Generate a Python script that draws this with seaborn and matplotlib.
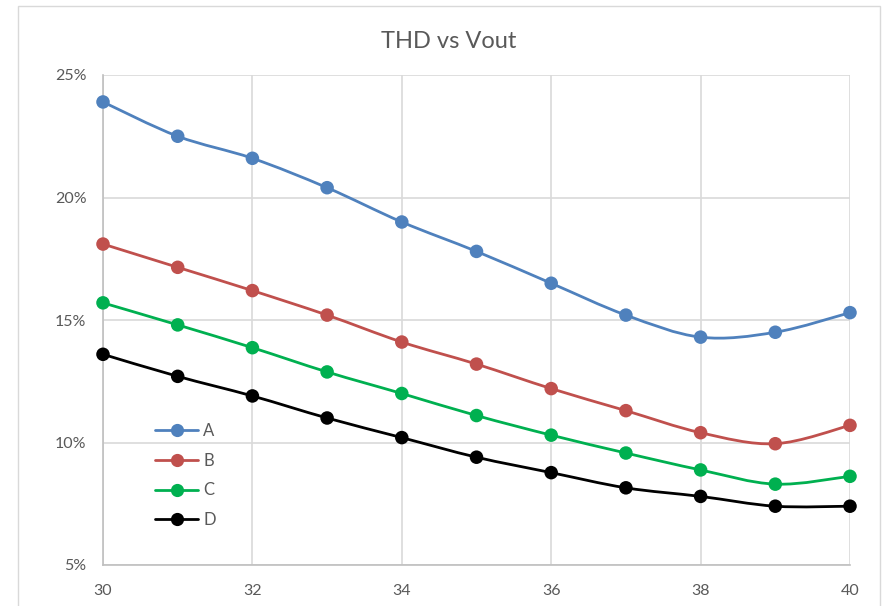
import numpy as np
import pandas as pd
import matplotlib
matplotlib.use("Agg")
import matplotlib.pyplot as plt
import seaborn as sns
from matplotlib.path import Path
from matplotlib.patches import PathPatch, Rectangle
from matplotlib.lines import Line2D
from matplotlib.ticker import FuncFormatter

vout = [30, 31, 32, 33, 34, 35, 36, 37, 38, 39, 40]
thd_a = [23.9, 22.5, 21.6, 20.4, 19.0, 17.8, 16.5, 15.2, 14.3, 14.5, 15.3]
thd_b = [18.1, 17.15, 16.2, 15.2, 14.1, 13.2, 12.2, 11.3, 10.4, 9.95, 10.7]
thd_c = [15.7, 14.8, 13.87, 12.88, 12.0, 11.1, 10.3, 9.57, 8.88, 8.3, 8.62]
thd_d = [13.6, 12.7, 11.9, 11.0, 10.2, 9.4, 8.77, 8.15, 7.8, 7.4, 7.4]
series_names = ["A", "B", "C", "D"]
colors = ["#4F81BD", "#C0504D", "#00B050", "#000000"]
y_ticks = [5, 10, 15, 20, 25]
x_ticks = [30, 32, 34, 36, 38, 40]

df = pd.DataFrame({
    "Vout": vout * 4,
    "THD": thd_a + thd_b + thd_c + thd_d,
    "Series": sum([[n] * len(vout) for n in series_names], []),
})

sns.set_theme(style="white")
plt.rcParams["font.family"] = ["Lato", "DejaVu Sans"]

fig = plt.figure(figsize=(8.85, 6.06), dpi=100)
fig.patch.set_facecolor("white")
# chart outer border
fig.patches.append(Rectangle((18 / 885, -0.05), (880 - 18) / 885, 1 - 6 / 606 + 0.05,
                             transform=fig.transFigure, fill=False,
                             edgecolor="#D9D9D9", linewidth=1.0))

ax = fig.add_axes([103 / 885, 1 - 565 / 606, (850 - 103) / 885, (565 - 75) / 606])
ax.set_xlim(30, 40)
ax.set_ylim(5, 25)

def smooth_path(xs, ys):
    pts = np.column_stack([xs, ys]).astype(float)
    n = len(pts)
    verts = [pts[0]]
    codes = [Path.MOVETO]
    for i in range(n - 1):
        p0 = pts[i - 1] if i > 0 else pts[i]
        p1 = pts[i]
        p2 = pts[i + 1]
        p3 = pts[i + 2] if i + 2 < n else pts[i + 1]
        c1 = p1 + (p2 - p0) / 6.0
        c2 = p2 - (p3 - p1) / 6.0
        verts += [c1, c2, p2]
        codes += [Path.CURVE4] * 3
    return Path(verts, codes)

for name, col in zip(series_names, colors):
    sub = df[df["Series"] == name]
    patch = PathPatch(smooth_path(sub["Vout"].values, sub["THD"].values),
                      facecolor="none", edgecolor=col, linewidth=2.0,
                      capstyle="round", joinstyle="round", zorder=3)
    ax.add_patch(patch)

sns.scatterplot(data=df, x="Vout", y="THD", hue="Series", palette=colors,
                s=95, edgecolor="none", legend=False, ax=ax, zorder=4, clip_on=False)

ax.set_xticks(x_ticks)
ax.set_yticks(y_ticks)
ax.yaxis.set_major_formatter(FuncFormatter(lambda v, p: f"{v:.0f}%"))
ax.grid(True, color="#D9D9D9", linewidth=1.2)
ax.set_axisbelow(True)
for s in ["top", "right"]:
    ax.spines[s].set_visible(False)
for s in ["left", "bottom"]:
    ax.spines[s].set_color("#BFBFBF")
    ax.spines[s].set_linewidth(1.2)
ax.tick_params(axis="both", length=0, labelsize=11.5, labelcolor="#595959")
ax.tick_params(axis="x", pad=14)
ax.tick_params(axis="y", pad=12)
ax.set_xlabel("")
ax.set_ylabel("")

fig.text(449 / 885, 1 - 42 / 606, "THD vs Vout", ha="center", va="center",
         fontsize=17, color="#595959")

handles = [Line2D([0], [0], color=c, linewidth=2.0, marker="o", markersize=9.5,
                  markeredgewidth=0) for c in colors]
leg = ax.legend(handles, series_names, loc="upper left",
                bbox_to_anchor=((155 - 103) / 747, (565 - 423) / 490),
                frameon=False, fontsize=12, handlelength=2.6, handletextpad=0.3,
                labelspacing=0.82, borderpad=0, borderaxespad=0)
for t in leg.get_texts():
    t.set_color("#595959")

fig.savefig("out.png", dpi=100, facecolor="white")
